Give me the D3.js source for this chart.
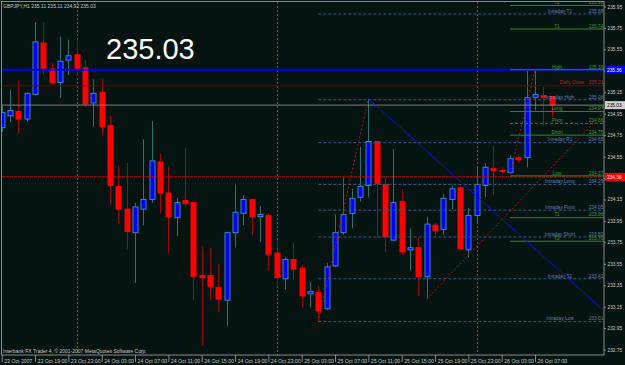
<!DOCTYPE html>
<html>
<head>
<meta charset="utf-8">
<script src="https://cdn.jsdelivr.net/npm/d3@7"></script>
<style>
  body { margin: 0; background: #051410; }
  svg { display: block; font-family: "Liberation Sans", Arial, sans-serif; }
</style>
</head>
<body>
<div id="chart"></div>
<script>
var symbol = "GBPJPY,H1";
var firstBar = new Date(Date.UTC(2007, 9, 23, 15));

// hourly OHLC
var opens = [234.82,234.93,234.97,234.90,235.13,235.61,235.37,235.24,235.45,235.50,
  235.38,235.05,235.15,234.84,234.27,234.06,233.84,234.06,234.15,234.50,
  234.21,233.98,234.14,234.12,233.44,233.44,233.33,233.21,233.84,234.02,
  234.15,233.99,234.00,233.65,233.41,233.59,233.51,233.27,233.28,233.13,
  233.53,233.84,234.02,234.17,234.28,234.69,234.29,233.77,234.13,233.68,
  233.70,233.43,233.91,233.87,234.15,234.26,233.68,234.00,234.28,234.44,
  234.42,234.40,234.54,234.54,235.10,235.12,235.11];
var highs = [235.03,235.17,235.26,235.15,235.80,235.80,235.42,235.67,235.64,235.64,
  235.45,235.27,235.27,234.93,234.47,234.49,234.12,234.71,234.88,234.58,
  234.45,234.16,234.63,234.13,233.71,233.70,233.55,233.85,234.29,234.19,
  234.16,234.09,234.02,233.77,233.61,233.75,233.54,233.38,233.34,233.56,
  234.01,234.35,234.25,234.64,235.09,234.70,234.35,234.62,234.24,233.88,
  233.79,233.99,233.93,234.20,234.28,234.28,234.07,234.45,234.49,234.65,
  234.45,234.56,234.56,235.35,235.36,235.20,235.11];
var lows = [234.78,234.87,234.76,234.88,235.12,235.32,235.22,235.10,235.31,235.30,
  235.01,234.83,234.74,234.10,233.93,233.69,233.37,233.91,234.12,234.02,
  233.65,233.81,234.08,233.21,232.79,233.21,233.10,232.97,233.70,233.91,
  233.82,233.75,233.49,233.35,233.31,233.40,233.14,233.14,233.01,233.12,
  233.52,233.82,233.88,234.13,234.17,233.79,233.66,233.76,233.63,233.49,
  233.25,233.22,233.82,233.82,234.06,233.69,233.61,233.94,234.17,234.19,
  234.39,234.39,234.49,234.45,234.98,234.84,234.92];
var closes = [234.96,234.98,234.90,235.14,235.62,235.36,235.24,235.44,235.49,235.36,
  235.04,235.14,234.83,234.28,234.06,233.85,234.08,234.15,234.51,234.21,
  233.99,234.12,234.11,233.43,233.42,233.34,233.22,233.84,234.03,234.15,
  233.99,234.01,233.64,233.42,233.59,233.50,233.25,233.29,233.11,233.52,
  233.84,234.01,234.16,234.27,234.69,234.30,233.80,234.12,233.66,233.70,
  233.43,233.92,233.86,234.16,234.25,233.69,234.00,234.29,234.45,234.42,
  234.41,234.53,234.52,235.10,235.13,235.10,235.03];

var priceTicks = [235.95,235.75,235.55,235.35,235.15,234.95,234.75,234.55,234.35,
  234.15,233.95,233.75,233.55,233.35,233.15,232.95,232.75];

var pivotNames = ["T2","T1","High","Long","Pivot","Short","Low","T1","T2"];
var pivotValues = [235.96,235.74,235.36,234.97,234.86,234.75,234.37,233.98,233.76];
var pivotStart = 61;

var intradayNames = ["Intraday  T1","Intraday High","Intraday  R1","Intraday Long",
  "Intraday Pivot","Intraday Short","Intraday  S1","Intraday Low"];
var intradayValues = [235.88,235.08,234.68,234.29,234.05,233.80,233.41,233.01];
var intradayStart = 38;

var dailyClose = 235.21;
var dayHigh = 235.36;
var markLevel = 234.36;

// trend segments: [bar, price] pairs
var segBars = [[38, 44], [61, 64]];
var segPrices = [[233.01, 235.09], [234.39, 235.36]];
// rays extended to the right edge
var rayBars = [[44, 66], [51, 66]];
var rayPrices = [[235.09, 233.55], [233.22, 234.45]];

var width = 625, height = 365;
var plotLeft = 2, plotRight = 604, plotTop = 2, plotBottom = 355;
var n = closes.length;
var last = closes[n - 1];

var times = d3.utcHour.range(firstBar, d3.utcHour.offset(firstBar, n));
var x = d3.scaleLinear().domain([0, n - 1]).range([1.7, 551.7]);
var y = d3.scaleLinear().domain([232.75, 235.95]).range([349.5, 6.5]);
var f2 = d3.format(".2f");

var svg = d3.select("#chart").append("svg")
    .attr("width", width)
    .attr("height", height);

svg.append("rect").attr("width", width).attr("height", height).attr("fill", "#051410");

svg.append("clipPath").attr("id", "plot")
  .append("rect").attr("x", plotLeft).attr("y", plotTop)
  .attr("width", plotRight - plotLeft).attr("height", plotBottom - plotTop);

var plot = svg.append("g").attr("clip-path", "url(#plot)");

// day separators
plot.selectAll(".sep")
    .data(d3.range(n).filter(function (i) { return times[i].getUTCHours() === 0; }))
  .enter().append("line")
    .attr("x1", function (i) { return Math.round(x(i)) + 0.5; })
    .attr("x2", function (i) { return Math.round(x(i)) + 0.5; })
    .attr("y1", plotTop).attr("y2", plotBottom)
    .attr("stroke", "#7a4b4b")
    .attr("stroke-dasharray", "2,2");

// candles
var bars = plot.selectAll(".bar")
    .data(d3.range(n))
  .enter().append("g")
    .attr("class", "bar");

bars.append("line")
    .attr("x1", function (i) { return Math.round(x(i)) + 0.5; })
    .attr("x2", function (i) { return Math.round(x(i)) + 0.5; })
    .attr("y1", function (i) { return y(highs[i]); })
    .attr("y2", function (i) { return y(lows[i]); })
    .attr("stroke", function (i) { return closes[i] >= opens[i] ? "#2f6f70" : "#9a0c0c"; });

bars.append("rect")
    .attr("x", function (i) { return Math.round(x(i)) - 2; })
    .attr("width", 5)
    .attr("y", function (i) { return y(Math.max(opens[i], closes[i])); })
    .attr("height", function (i) { return Math.max(1, Math.abs(y(opens[i]) - y(closes[i]))); })
    .attr("fill", function (i) { return closes[i] >= opens[i] ? "#0000f4" : "#ff0000"; })
    .attr("stroke", function (i) { return closes[i] >= opens[i] ? "#3a86c8" : "#ff0000"; });

// full width levels
function hline(p, color, w, dash) {
  plot.append("line")
      .attr("x1", plotLeft).attr("x2", plotRight)
      .attr("y1", y(p)).attr("y2", y(p))
      .attr("stroke", color)
      .attr("stroke-width", w)
      .attr("stroke-dasharray", dash);
}
hline(dailyClose, "#7a0000", 1, null);
hline(last, "#808080", 1, null);
hline(markLevel, "#e00000", 1, "3,1");
hline(dayHigh, "#0000ff", 2, null);

// intraday levels
var intra = plot.selectAll(".intra")
    .data(d3.range(intradayValues.length))
  .enter().append("g");
intra.append("line")
    .attr("x1", x(intradayStart)).attr("x2", plotRight)
    .attr("y1", function (i) { return y(intradayValues[i]); })
    .attr("y2", function (i) { return y(intradayValues[i]); })
    .attr("stroke", "#35588a")
    .attr("stroke-dasharray", "3,2");
intra.append("text")
    .attr("x", 560)
    .attr("y", function (i) { return y(intradayValues[i]) - 1.2; })
    .attr("text-anchor", "middle")
    .attr("font-size", 4.8)
    .attr("fill", "#5f7fb0")
    .text(function (i) { return intradayNames[i]; });
intra.append("text")
    .attr("x", 596)
    .attr("y", function (i) { return y(intradayValues[i]) - 1.2; })
    .attr("text-anchor", "middle")
    .attr("font-size", 4.8)
    .attr("fill", "#5f7fb0")
    .text(function (i) { return f2(intradayValues[i]); });

// pivot levels
var piv = plot.selectAll(".piv")
    .data(d3.range(pivotValues.length))
  .enter().append("g");
piv.append("line")
    .attr("x1", x(pivotStart)).attr("x2", plotRight)
    .attr("y1", function (i) { return y(pivotValues[i]); })
    .attr("y2", function (i) { return y(pivotValues[i]); })
    .attr("stroke", "#2c8a2c")
    .attr("stroke-dasharray", function (i) { return pivotNames[i] === "Pivot" ? "3,2" : null; });
piv.append("text")
    .attr("x", 557)
    .attr("y", function (i) { return y(pivotValues[i]) - 1.2; })
    .attr("text-anchor", "middle")
    .attr("font-size", 4.8)
    .attr("fill", "#3a9a3a")
    .text(function (i) { return pivotNames[i]; });
piv.append("text")
    .attr("x", 596)
    .attr("y", function (i) { return y(pivotValues[i]) - 1.2; })
    .attr("text-anchor", "middle")
    .attr("font-size", 4.8)
    .attr("fill", "#3a9a3a")
    .text(function (i) { return f2(pivotValues[i]); });

plot.append("text")
    .attr("x", 572).attr("y", y(dailyClose) - 2)
    .attr("text-anchor", "middle")
    .attr("font-size", 4.8)
    .attr("fill", "#c02020")
    .text("Daily Close");
plot.append("text")
    .attr("x", 596).attr("y", y(dailyClose) - 2)
    .attr("text-anchor", "middle")
    .attr("font-size", 4.8)
    .attr("fill", "#c02020")
    .text(f2(dailyClose));

// trend lines
segBars.forEach(function (b, k) {
  plot.append("line")
      .attr("x1", x(b[0])).attr("y1", y(segPrices[k][0]))
      .attr("x2", x(b[1])).attr("y2", y(segPrices[k][1]))
      .attr("stroke", "#b01010")
      .attr("stroke-dasharray", "2,2");
});
rayBars.forEach(function (b, k) {
  var x1 = x(b[0]), y1 = y(rayPrices[k][0]);
  var slope = (y(rayPrices[k][1]) - y1) / (x(b[1]) - x1);
  plot.append("line")
      .attr("x1", x1).attr("y1", y1)
      .attr("x2", plotRight).attr("y2", y1 + slope * (plotRight - x1))
      .attr("stroke", k === 0 ? "#1010d0" : "#b01010")
      .attr("stroke-dasharray", k === 0 ? null : "2,2");
});

// frame
svg.append("rect")
    .attr("x", 1.5).attr("y", 1.5)
    .attr("width", plotRight - 1.5).attr("height", plotBottom - 1.5)
    .attr("fill", "none")
    .attr("stroke", "#8a8a8a");

// right axis
var yAxis = svg.append("g")
    .attr("transform", "translate(" + plotRight + ",0)")
    .call(d3.axisRight(y).tickValues(priceTicks).tickSize(2).tickPadding(1.5).tickFormat(f2));
yAxis.select(".domain").remove();
yAxis.selectAll("line").attr("stroke", "#8a8a8a");
yAxis.selectAll("text").attr("fill", "#c8c8c8").attr("font-size", 4.8);

// bottom axis
var fmtFirst = d3.utcFormat("%d %b %Y"), fmt = d3.utcFormat("%d %b %H:%M");
var xAxis = svg.append("g")
    .attr("transform", "translate(0," + plotBottom + ")")
    .call(d3.axisBottom(x).tickValues(d3.range(0, n, 4)).tickSize(7).tickPadding(-3)
      .tickFormat(function (i) { return i === 0 ? fmtFirst(times[i]) : fmt(times[i]); }));
xAxis.select(".domain").remove();
xAxis.selectAll("line").attr("stroke", "#8a8a8a");
xAxis.selectAll("text")
    .attr("fill", "#c8c8c8")
    .attr("font-size", 5.2)
    .attr("text-anchor", "start")
    .attr("dx", 2);

// price boxes on the axis
function priceBox(p, fill, color) {
  svg.append("rect")
      .attr("x", plotRight + 1).attr("y", y(p) - 4)
      .attr("width", 20).attr("height", 8)
      .attr("fill", fill);
  svg.append("text")
      .attr("x", plotRight + 3).attr("y", y(p) + 1.8)
      .attr("font-size", 4.8)
      .attr("fill", color)
      .text(f2(p));
}
priceBox(dayHigh, "#0000ff", "#ffffff");
priceBox(last, "#d0d0d0", "#000000");
priceBox(markLevel, "#ff0000", "#ffffff");

// captions
svg.append("text")
    .attr("x", 3).attr("y", 7.5)
    .attr("font-size", 5)
    .attr("fill", "#c8c8c8")
    .text(symbol + "  " + [opens[n - 1], highs[n - 1], lows[n - 1], closes[n - 1]].map(f2).join(" "));

svg.append("text")
    .attr("x", 106).attr("y", 59)
    .attr("font-size", 29)
    .attr("fill", "#ffffff")
    .text(f2(last));

svg.append("text")
    .attr("x", 3).attr("y", 353)
    .attr("font-size", 5)
    .attr("fill", "#c8c8c8")
    .text("Interbank FX Trader 4, \u00a9 2001-2007 MetaQuotes Software Corp.");
</script>
</body>
</html>
